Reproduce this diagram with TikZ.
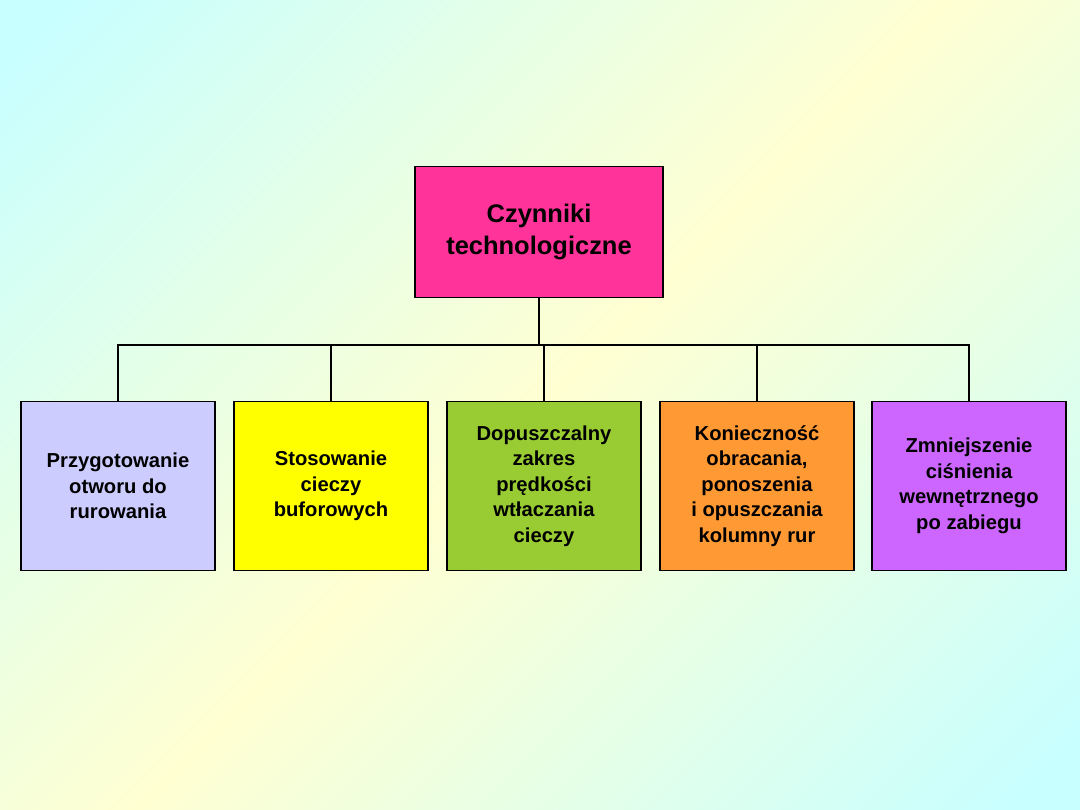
\documentclass[tikz,border=0pt]{standalone}
\usepackage{fontspec}
\setmainfont{Liberation Sans}
\usetikzlibrary{positioning}
\definecolor{bgcyan}{HTML}{C8FFFF}
\definecolor{bgyel}{HTML}{FFFFD2}
\definecolor{toppink}{HTML}{FF3399}
\definecolor{lilac}{HTML}{CCCCFF}
\definecolor{yel}{HTML}{FFFF00}
\definecolor{grn}{HTML}{99CC33}
\definecolor{orng}{HTML}{FF9933}
\definecolor{purp}{HTML}{CC66FF}
\begin{document}
\begin{tikzpicture}[x=0.02cm, y=-0.02cm,
  every node/.style={font=\bfseries, align=center},
  head/.style={draw, thick, fill=toppink, minimum width=4.96cm, minimum height=2.62cm, font=\bfseries\fontsize{14.5}{18}\selectfont},
  leafbox/.style={draw, thick, minimum width=3.88cm, minimum height=3.38cm, font=\bfseries\fontsize{11.5}{14.5}\selectfont},
  link/.style={thick}
]
% background
\useasboundingbox (0,0) rectangle (1080,810);
\begin{scope}
\clip (0,0) rectangle (1080,810);
\shade[shading=axis, top color=bgcyan, bottom color=bgcyan, middle color=bgyel, shading angle=45]
  (-150,-150) rectangle (1230,960);
\end{scope}
% head
\node[head] (top) at (539,232) {Czynniki\\technologiczne};
% leaves
\node[leafbox, fill=lilac] (prep) at (118,486) {Przygotowanie\\otworu do\\rurowania};
\node[leafbox, fill=yel]   (bufor) at (331,486) {Stosowanie\\cieczy\\buforowych};
\node[leafbox, fill=grn]   (speed) at (544,486) {Dopuszczalny\\zakres\\prędkości\\wtłaczania\\cieczy};
\node[leafbox, fill=orng]  (rot) at (757,486) {Konieczność\\obracania,\\ponoszenia\\i opuszczania\\kolumny rur};
\node[leafbox, fill=purp]  (press) at (969,486) {Zmniejszenie\\ciśnienia\\wewnętrznego\\po zabiegu};
% connectors
\foreach \c in {prep, bufor, speed, rot, press}
  \draw[link] (top.south) -- ++(0,47) -| (\c.north);
\end{tikzpicture}
\end{document}
